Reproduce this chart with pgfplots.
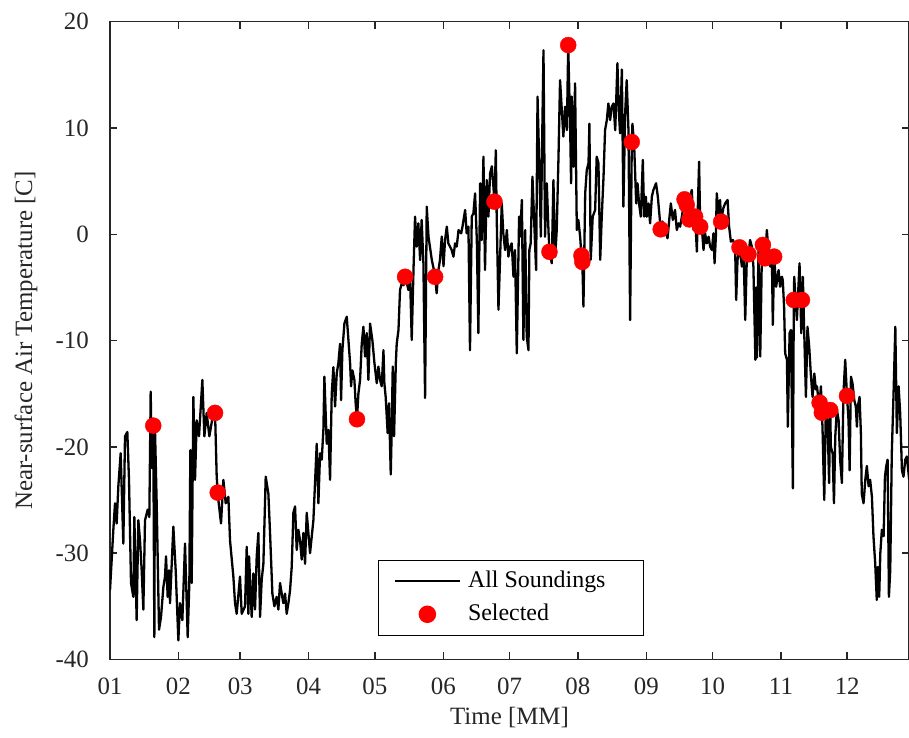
\documentclass[border=0pt]{standalone}
\usepackage{fontspec}
\setmainfont{Liberation Serif}
\usepackage{pgfplots}
\pgfplotsset{compat=1.18}
\usepackage{pgfplotstable}

\definecolor{axisgray}{RGB}{38,38,38}

\pgfplotsset{
  soundleg/.style={legend image code/.code={\draw[##1] (0bp,0bp) -- (65bp,0bp);}},
  selleg/.style={legend image code/.code={\draw[##1] plot coordinates {(32.5bp,0bp)};}},
}

% Day of year (0 = 1 January) and near-surface temperature of every sounding
\pgfplotstableread{
day temp
0 -33.5
1.51 -27.8
2.27 -25.3
3.02 -27.2
3.78 -23.7
4.83 -20.6
6.04 -29.1
6.80 -19.0
7.85 -18.6
8.61 -23.1
9.52 -32.8
10.57 -34.1
11.03 -26.6
12.08 -36.3
12.84 -26.9
13.60 -28.8
14.35 -31.6
15.11 -35.3
15.86 -26.9
17.07 -25.9
17.82 -26.6
18.43 -14.8
19.00 -22.0
19.60 -18.0
20.09 -37.9
20.39 -18.4
21.15 -25.3
22.21 -37.2
23.11 -36.0
24.17 -33.2
24.92 -32.2
25.38 -30.3
26.13 -34.1
26.74 -31.6
27.19 -34.7
28.70 -27.5
29.76 -31.6
30.97 -38.2
31.72 -34.7
32.78 -36.3
33.99 -29.1
35.20 -37.9
35.95 -32.8
36.41 -20.3
37.01 -32.8
37.77 -15.3
38.52 -23.1
39.28 -17.5
40.33 -19.0
41.84 -13.7
42.75 -19.0
43.81 -16.8
45.01 -19.0
46.83 -16.8
47.60 -16.8
48.34 -22.8
48.80 -24.3
49.10 -25.0
50.30 -27.2
51.36 -23.1
52.42 -25.3
53.63 -24.7
54.38 -28.8
55.89 -32.2
56.65 -34.7
57.40 -35.7
58.90 -32.2
59.67 -35.7
61.18 -35.0
61.94 -29.4
62.69 -35.7
63.00 -30.3
64.20 -36.0
64.96 -31.9
65.71 -35.3
66.47 -30.3
67.22 -28.1
67.98 -36.0
68.73 -32.5
69.49 -31.0
70.55 -22.8
71.76 -24.4
72.51 -28.1
73.57 -33.8
74.48 -35.0
75.53 -34.1
76.29 -35.3
77.04 -32.8
77.80 -33.8
78.55 -34.7
79.31 -33.8
80.06 -35.7
80.82 -34.7
81.57 -33.5
82.33 -31.3
83.09 -26.2
83.84 -25.6
84.60 -29.7
85.35 -27.8
86.11 -28.8
86.86 -30.6
87.62 -28.1
88.37 -31.0
89.13 -26.2
90.64 -30.0
92.15 -26.9
93.66 -19.7
94.42 -25.3
95.17 -20.6
95.93 -21.2
96.68 -18.4
97.13 -13.4
98.19 -19.7
98.95 -18.4
99.70 -23.1
100.46 -15.0
101.21 -12.5
101.97 -16.2
102.72 -13.1
103.48 -12.1
104.23 -10.3
104.69 -15.6
105.29 -10.9
106.20 -8.4
107.26 -7.75
108.01 -9.9
108.77 -12.1
109.22 -14.3
109.82 -12.8
110.73 -13.7
111.30 -15.9
111.90 -17.4
112.54 -15.0
113.30 -13.7
114.05 -10.3
114.81 -8.7
115.56 -11.5
116.32 -9.3
117.07 -13.7
117.83 -8.4
118.89 -10.0
119.80 -12.1
120.85 -14.0
121.60 -12.45
122.36 -13.7
123.10 -14.3
123.90 -10.9
124.30 -14.0
124.90 -15.3
125.80 -18.7
126.40 -15.9
127.20 -22.6
127.60 -18.7
128.10 -12.45
128.70 -19.0
129.50 -12.1
129.90 -10.3
130.70 -9.0
131.40 -5.24
132.20 -4.6
133.00 -4.8
133.70 -4.0
134.40 -4.5
135.20 -5.24
135.95 -3.99
136.70 -9.94
137.50 -3.36
138.20 1.66
139.00 -1.16
139.70 1.03
140.50 -2.42
141.20 1.35
142.00 -2.73
142.75 -15.4
143.50 2.6
144.30 -0.22
145.80 -2.42
146.60 -3.2
147.30 -4.0
148.00 -5.55
148.80 -3.36
149.50 -2.42
150.30 -0.22
151.10 -3.0
151.80 -0.54
152.60 0.72
153.30 -0.85
154.80 -1.48
155.60 -2.1
156.35 -0.85
157.10 -1.16
157.90 0.40
159.10 0.09
159.70 0.72
160.90 2.29
161.60 0.09
162.40 0.72
163.10 -10.9
163.90 1.66
164.65 1.97
165.40 3.85
166.20 -0.54
166.90 -9.3
167.70 4.8
168.40 -0.54
169.20 7.30
169.90 -3.36
170.70 5.1
171.45 1.66
172.20 5.7
173.00 6.4
173.70 4.5
174.20 3.07
174.80 7.9
175.20 1.66
176.00 -7.1
176.70 -2.42
177.50 2.91
178.20 0.09
179.00 -1.48
179.80 0.40
180.50 -2.1
181.30 -1.16
182.00 -0.85
182.80 -3.99
183.50 -1.48
184.30 -11.2
185.35 1.66
185.80 -0.22
186.60 3.23
187.30 -9.94
188.10 0.40
188.80 -9.63
189.60 -10.9
190.00 -1.48
190.60 -0.85
191.40 5.42
192.10 1.66
193.05 -3.36
193.70 12.95
194.40 7.3
195.20 -0.22
195.80 8.87
196.40 17.3
197.10 -0.22
197.90 4.8
198.65 0.40
199.10 -1.65
200.15 -2.73
200.90 5.1
201.70 -2.1
202.40 0.40
203.20 7.3
203.90 14.5
204.70 11.7
205.40 9.2
206.20 12.0
207.00 9.8
207.60 17.8
208.50 9.8
208.90 4.8
209.20 12.95
210.00 6.36
210.70 14.2
211.50 0.40
212.20 1.35
213.00 -0.22
213.60 -2.0
214.00 -2.6
214.50 -6.8
215.30 3.86
216.00 6.05
216.80 6.7
217.20 10.4
217.80 -2.4
218.70 1.66
219.80 2.29
220.50 7.3
221.30 6.7
222.10 -2.4
222.80 1.66
223.60 5.42
224.30 9.8
225.10 10.75
225.80 12.3
226.60 10.75
227.30 12.0
228.10 12.3
228.90 9.8
229.30 12.3
229.90 16.1
230.50 11.7
231.10 9.5
231.90 15.5
232.60 2.6
233.40 11.4
234.10 14.5
234.90 9.8
235.65 -8.06
236.40 8.68
236.70 10.4
237.50 8.24
238.40 2.9
239.00 4.8
239.70 2.9
240.50 1.66
241.40 7.0
242.00 1.66
242.80 3.54
243.20 1.66
244.00 2.9
244.70 1.03
245.50 3.54
246.20 4.17
247.40 4.8
248.20 3.54
249.50 0.47
250.30 1.2
251.50 0.40
252.60 -0.38
253.50 1.66
254.10 2.91
255.00 1.35
256.00 2.29
256.80 0.40
257.60 1.03
258.30 0.72
259.10 1.66
260.30 3.29
261.30 2.76
262.50 1.40
262.80 3.54
263.60 4.17
264.40 0.40
265.10 1.66
265.90 -1.63
266.30 2.29
266.90 6.83
267.40 0.72
268.10 0.72
268.90 -1.48
269.60 0.09
270.40 -0.85
271.20 -0.22
271.90 -1.16
272.70 -1.48
273.40 0.09
273.90 -2.73
274.50 -0.22
274.90 3.85
275.70 1.97
276.40 3.23
276.90 1.19
277.80 2.4
278.70 2.91
279.80 3.23
280.50 0.72
281.30 -0.69
282.20 -0.54
283.20 -1.0
283.70 -6.18
284.30 -2.42
285.20 -1.23
286.30 -3.04
287.00 -1.16
287.80 -8.06
288.50 -2.42
289.30 -1.88
290.00 -0.54
290.80 -1.16
291.50 -3.04
292.40 -11.8
292.75 -5.0
293.10 -11.6
293.80 -1.48
294.60 -11.5
295.30 -2.42
295.80 -1.0
296.80 -2.26
297.60 0.40
298.30 -1.48
299.10 -3.04
299.90 -2.42
300.30 -8.53
300.90 -2.1
301.80 -4.93
302.90 -3.36
303.60 -4.93
304.40 -3.99
304.80 -4.3
305.40 -6.8
305.90 -11.2
306.70 -11.8
307.10 -18.1
307.90 -9.3
308.50 -9.0
309.40 -23.9
309.80 -6.18
310.00 -4.0
311.20 -8.06
312.40 -2.73
313.20 -9.3
313.50 -6.18
313.90 -4.0
314.50 -9.0
315.30 -15.3
316.00 -8.7
316.80 -10.6
317.50 -13.1
318.30 -15.3
319.10 -13.1
319.80 -14.6
320.30 -14.3
321.00 -15.6
321.50 -15.84
322.10 -14.3
322.50 -16.78
322.80 -18.1
323.60 -25.0
324.30 -16.8
325.10 -17.5
325.80 -23.4
326.30 -16.53
326.60 -20.0
327.40 -20.6
328.00 -25.3
328.60 -19.0
329.30 -16.5
330.10 -17.5
330.80 -21.2
331.60 -23.4
332.30 -15.0
333.10 -11.8
333.90 -15.2
334.60 -17.5
335.10 -22.2
335.70 -13.4
336.40 -14.0
337.20 -15.6
337.90 -16.2
338.40 -18.1
338.80 -16.2
339.60 -15.3
340.20 -18.7
340.60 -24.4
341.40 -25.3
342.20 -23.1
342.90 -21.8
343.70 -23.7
344.40 -23.1
345.20 -24.7
345.90 -28.4
346.70 -31.0
347.40 -34.4
347.90 -31.3
348.50 -34.1
349.00 -30.0
349.70 -27.8
350.50 -28.4
351.10 -22.8
351.70 -21.8
352.30 -21.2
352.90 -34.1
353.50 -31.6
354.20 -20.6
355.00 -15.0
355.80 -8.7
356.50 -18.7
357.30 -14.3
358.00 -16.8
358.80 -22.2
359.50 -22.8
360.30 -21.2
361.00 -20.9
362.10 -23.1
}\soundings

% Soundings picked out for further use
\pgfplotstableread{
day temp
19.60 -18.0
47.60 -16.8
48.80 -24.3
111.90 -17.4
133.70 -4.0
147.30 -4.0
174.20 3.07
199.10 -1.65
207.60 17.8
213.60 -2.0
214.00 -2.6
236.40 8.68
249.50 0.47
260.30 3.29
261.30 2.76
262.50 1.40
265.10 1.66
267.40 0.72
276.90 1.19
285.20 -1.23
289.30 -1.88
295.80 -1.0
296.80 -2.26
300.90 -2.1
309.80 -6.18
313.50 -6.18
321.50 -15.84
322.50 -16.78
326.30 -16.53
333.90 -15.2
}\selected

\begin{document}
\begin{tikzpicture}
\begin{axis}[
  scale only axis,
  width=799bp, height=637.8bp,
  xmin=0, xmax=362, ymin=-40, ymax=20,
  xtick={0,31,59,90,120,151,181,212,243,273,304,334},
  xticklabels={01,02,03,04,05,06,07,08,09,10,11,12},
  ytick={-40,-30,-20,-10,0,10,20},
  tick align=inside,
  major tick length=7bp,
  axis line style={axisgray, line width=1.5bp},
  every tick/.style={axisgray, line width=1.5bp},
  /pgf/number format/assume math mode=true,
  tick label style={font=\fontsize{25}{30}\selectfont, text=axisgray},
  xticklabel style={inner sep=0pt, anchor=north, yshift=-18bp},
  yticklabel style={inner sep=0pt, anchor=east, xshift=-21bp},
  xlabel={Time [MM]},
  ylabel={Near-surface Air Temperature [C]},
  label style={font=\fontsize{25}{30}\selectfont, text=axisgray},
  xlabel style={at={(axis description cs:0.5,-0.0917)}, anchor=center},
  ylabel style={at={(axis description cs:-0.105,0.5)}, anchor=center},
  legend cell align=left,
  legend style={
    at={(0.3354,0.0368)}, anchor=south west,
    draw=black, line width=1.5bp, fill=white,
    font=\fontsize{24}{28}\selectfont,
    inner xsep=15bp, inner ysep=10bp,
    column sep=7bp, row sep=11bp,
    nodes={inner sep=0pt, text height=17bp, text depth=5bp},
  },
]
\addplot[black, line width=2.3bp, line join=round, soundleg]
  table[x=day, y=temp] {\soundings};
\addlegendentry{All Soundings\hspace*{23bp}}
\addplot[only marks, mark=*, mark size=8bp, color=red, fill=red, selleg]
  table[x=day, y=temp] {\selected};
\addlegendentry{Selected}
\end{axis}
\pgfresetboundingbox
\path[use as bounding box]
  ([xshift=-110bp,yshift=-78.5bp]current axis.south west)
  rectangle ([yshift=21.7bp]current axis.north east);
\end{tikzpicture}
\end{document}
